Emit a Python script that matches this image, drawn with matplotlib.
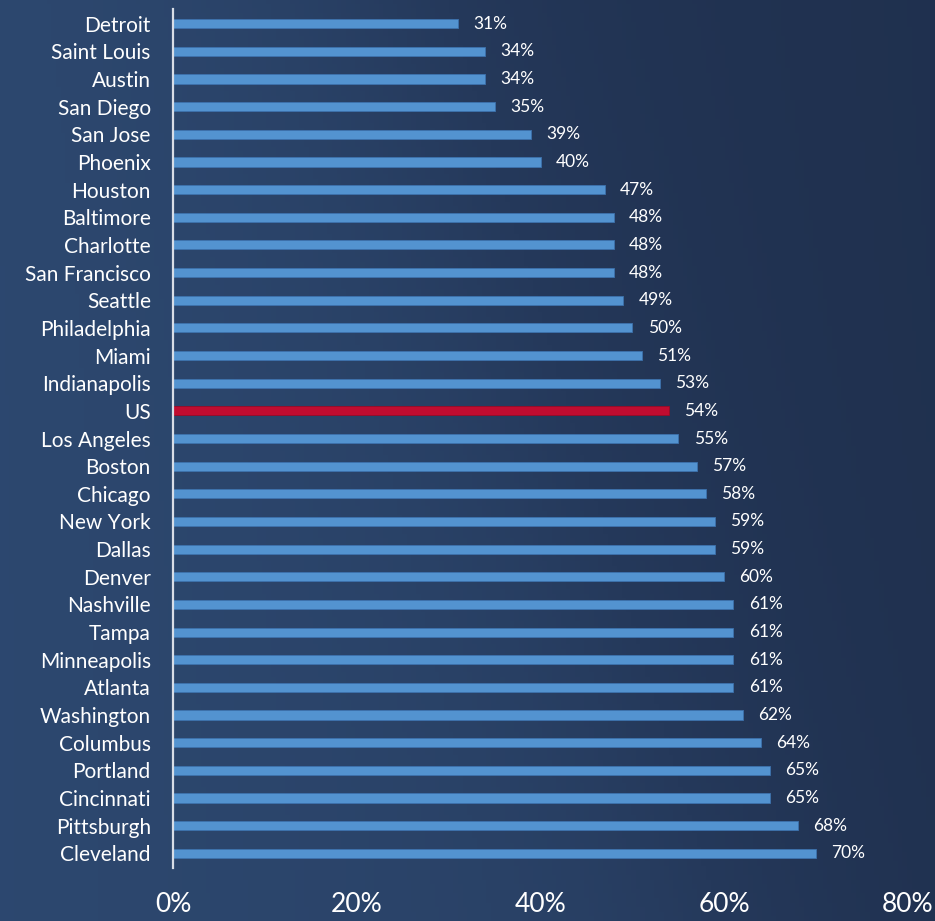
import numpy as np
import matplotlib.pyplot as plt
from matplotlib.colors import LinearSegmentedColormap

cities = ["Detroit", "Saint Louis", "Austin", "San Diego", "San Jose", "Phoenix",
          "Houston", "Baltimore", "Charlotte", "San Francisco", "Seattle",
          "Philadelphia", "Miami", "Indianapolis", "US", "Los Angeles", "Boston",
          "Chicago", "New York", "Dallas", "Denver", "Nashville", "Tampa",
          "Minneapolis", "Atlanta", "Washington", "Columbus", "Portland",
          "Cincinnati", "Pittsburgh", "Cleveland"]
values = [31, 34, 34, 35, 39, 40, 47, 48, 48, 48, 49, 50, 51, 53, 54, 55, 57,
          58, 59, 59, 60, 61, 61, 61, 61, 62, 64, 65, 65, 68, 70]
xticks = [0, 20, 40, 60, 80]

plt.rcParams['font.family'] = ['Lato', 'DejaVu Sans']

W, H = 935, 921
fig = plt.figure(figsize=(W / 100, H / 100), dpi=100)

# background: dark navy, lighter towards the top-left
bg = fig.add_axes([0, 0, 1, 1])
yy, xx = np.mgrid[0:1:200j, 0:1:200j]
diag = xx - 0.45 - 0.35 * yy  # negative = upper-left region
light = 1 / (1 + np.exp(diag * 9))
shade = 0.45 * light + 0.2 * (1 - yy) * (1 - xx) + 0.2 * yy * (1 - xx) + 0.1
cmap = LinearSegmentedColormap.from_list("bg", ["#1e2e4b", "#25395b", "#2e4a72"])
bg.imshow(shade, cmap=cmap, aspect='auto', extent=[0, 1, 0, 1], origin='upper',
          vmin=0, vmax=0.8)
bg.set_axis_off()

left = 173 / W
top = 9 / H
bottom = 868 / H
ax = fig.add_axes([left, 1 - bottom, 1 - left - 27 / W, bottom - top])
ax.patch.set_alpha(0)

y = np.arange(len(cities))
colors = ["#c00c30" if c == "US" else "#5393d0" for c in cities]
edges = ["#9a0a26" if c == "US" else "#3d72ad" for c in cities]
ax.barh(y, values, height=0.33, color=colors, edgecolor=edges, linewidth=0.6)

for yi, v in zip(y, values):
    ax.annotate(f"{v}%", (v, yi), xytext=(11, 0), textcoords='offset points',
                va='center', ha='left', color='white', fontsize=12.5)

ax.set_ylim(len(cities) - 0.5 + 0.03, -0.5 - 0.03)
ax.set_xlim(0, 80)
ax.set_yticks(y)
ax.set_yticklabels(cities, fontsize=15, color='white')
ax.tick_params(axis='y', length=0, pad=16)
ax.set_xticks(xticks)
ax.set_xticklabels([f"{t}%" for t in xticks], fontsize=19, color='white')
ax.tick_params(axis='x', length=0, pad=17)

for s in ['top', 'right', 'bottom']:
    ax.spines[s].set_visible(False)
ax.spines['left'].set_color('#d8dde6')
ax.spines['left'].set_linewidth(1.6)

fig.savefig("out.png", dpi=100)
